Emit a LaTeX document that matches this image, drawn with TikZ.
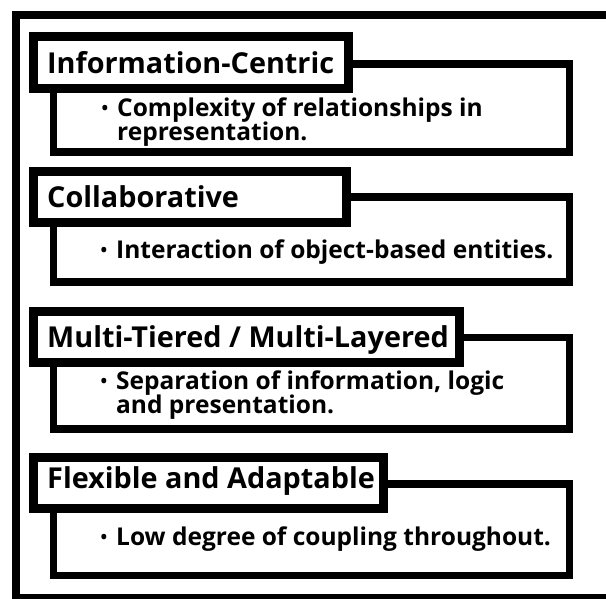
\documentclass[tikz,border=0pt]{standalone}
\usepackage{fontspec}
\setmainfont{Open Sans}
\newcommand{\mybul}{\llap{\raisebox{1.6pt}{\scalebox{0.72}{•}}\hspace{9pt}}}
\begin{document}
\begin{tikzpicture}[x=1pt,y=-1pt,
  frame/.style={draw=black,line width=8pt},
  bodybox/.style={draw=black,line width=7.5pt,fill=white,rectangle,inner sep=0pt,outer sep=0pt,anchor=north west},
  titlebox/.style={draw=black,line width=9pt,fill=white,rectangle,inner sep=0pt,outer sep=0pt,anchor=north west},
  titletext/.style={anchor=base west,inner sep=0pt,font=\fontsize{28.8}{32}\selectfont\bfseries},
  bodytext/.style={anchor=base west,inner sep=0pt,font=\fontsize{24.5}{24}\selectfont\bfseries}]
\useasboundingbox (0,0) rectangle (606,598);
\fill[white] (0,0) rectangle (606,598);
\begin{scope}
\clip (0,0) rectangle (606,598);
\draw[frame] (16,14.5) rectangle (620,598);
\end{scope}
% group 1
\node[bodybox,minimum width=515.8pt,minimum height=88pt] (b1) at (53.5,64) {};
\node[titlebox,minimum width=315pt,minimum height=51.6pt] (t1) at (33.5,36.7) {};
\node[titletext] (tt1) at (47,73.5) {Information-Centric};
\node[bodytext] (bt1a) at (117,116) {\mybul Complexity of relationships in};
\node[bodytext] (bt1b) at (117,140) {representation.};
% group 2
\node[bodybox,minimum width=515.8pt,minimum height=85pt] (b2) at (53.5,197) {};
\node[titlebox,minimum width=312.8pt,minimum height=50.8pt] (t2) at (33.5,171.7) {};
\node[titletext] (tt2) at (47,207) {Collaborative};
\node[bodytext] (bt2) at (116,258) {\mybul Interaction of object-based entities.};
% group 3
\node[bodybox,minimum width=515.8pt,minimum height=91.5pt] (b3) at (53.5,337.5) {};
\node[titlebox,minimum width=426pt,minimum height=50.8pt] (t3) at (33.5,311.7) {};
\node[titletext] (tt3) at (47,347) {Multi-Tiered / Multi-Layered};
\node[bodytext] (bt3a) at (116,389) {\mybul Separation of information, logic};
\node[bodytext] (bt3b) at (116,413) {and presentation.};
% group 4
\node[bodybox,minimum width=515.8pt,minimum height=91.5pt] (b4) at (53.5,484) {};
\node[titlebox,minimum width=349.5pt,minimum height=51pt] (t4) at (33.5,457) {};
\node[titletext] (tt4) at (47,488.5) {Flexible and Adaptable};
\node[bodytext] (bt4) at (116,545) {\mybul Low degree of coupling throughout.};
\end{tikzpicture}
\end{document}
